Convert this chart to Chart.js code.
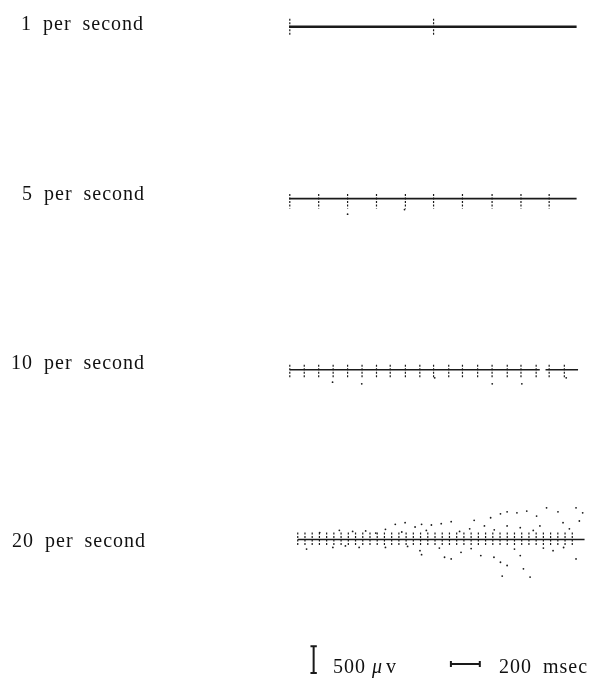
<!DOCTYPE html>
<html>
<head>
<meta charset="utf-8">
<script src="https://cdn.jsdelivr.net/npm/chart.js@4.4.0/dist/chart.umd.min.js"></script>
<style>
  html, body { margin: 0; background: #fff; }
  canvas { display: block; }
</style>
</head>
<body>
<canvas id="emgChart" width="590" height="679"></canvas>
<script>
// stimulation rates, one trace each
const rateLabels = ["1 per second", "5 per second", "10 per second", "20 per second"];

// baseline of each trace (µV, stacked) and its start / end (msec)
const rowOffsets = [0, -3220, -6420, -9600];
const traceStart = [0, 0, 5, 60];
const traceEnd = [1990, 1990, 2000, 2045];
const traceGaps = [[], [], [[1735, 1775]], []];

// stimulus times (msec)
const stim1 = [5, 1000];
const stim5 = [5, 205, 405, 605, 805, 1000, 1200, 1405, 1605, 1800];
const stim10 = [5, 105, 205, 305, 405, 505, 605, 700, 805, 905, 1000, 1105, 1200, 1305, 1405, 1510, 1605, 1710, 1800, 1905];
const stim20 = [60, 110, 160, 210, 260, 310, 360, 410, 460, 510, 560, 610, 660, 710, 760, 810, 860, 910, 960, 1010,
  1060, 1110, 1160, 1210, 1260, 1310, 1360, 1410, 1460, 1510, 1560, 1610, 1660, 1710, 1760, 1810, 1860, 1910, 1960];

// artifact deflections (µV) above / below baseline
const artifactUp = [150, 90, 90, 130];
const artifactDown = [-165, -185, -150, -130];

// scattered response dots (msec, µV from baseline)
const dotTimes5 = [405, 799];
const dotVolts5 = [-290, -203];
const dotTimes10 = [301, 503, 1008, 1406, 1611, 1918];
const dotVolts10 = [-234, -265, -154, -265, -265, -154];
const dotTimes20 = [1463, 1509, 1577, 1645, 1782, 1861, 1986, 2032, 1713, 1395, 1281, 1122, 1053, 985, 917, 872, 803, 735, 667, 530,
  348, 212, 1352, 1600, 1736, 1896, 2009, 1509, 440, 600, 780, 950, 1180, 1250, 1420, 1690, 1940,
  121, 303, 485, 667, 906, 917, 1076, 1122, 1190, 1327, 1418, 1463, 1509, 1600, 1622, 1668, 1475, 1827, 1986,
  390, 820, 1040, 1260, 1560, 1760, 1900];
const dotVolts20 = [481, 518, 500, 531, 592, 518, 592, 500, 438, 407, 358, 333, 296, 271, 283, 234, 314, 283, 191, 160,
  172, 129, 253, 222, 253, 314, 346, 253, 150, 120, 140, 170, 150, 200, 180, 170, 200,
  -179, -148, -148, -148, -210, -284, -333, -364, -240, -302, -333, -426, -487, -302, -549, -703, -685, -210, -364,
  -120, -130, -160, -170, -180, -160, -150];

// calibration bars
const calVolts = 500;
const calTime = 200;
const calBase = -12100;
const calBarTime = 170;
const calTimeStart = 1120;
const calTimeLevel = -11930;

const stimSets = [stim1, stim5, stim10, stim20];
const lineWidths = [2.4, 1.8, 1.5, 1.6];
const ink = "#1a1a1a";

let datasets = [];

rowOffsets.forEach((off, i) => {
  let pts = [{ x: traceStart[i], y: off }];
  traceGaps[i].forEach((g) => {
    pts.push({ x: g[0], y: off });
    pts.push({ x: g[0], y: null });
    pts.push({ x: g[1], y: off });
  });
  pts.push({ x: traceEnd[i], y: off });
  datasets.push({
    data: pts,
    showLine: true,
    borderColor: ink,
    borderWidth: lineWidths[i],
    pointRadius: 0,
  });

  let art = [];
  stimSets[i].forEach((t) => {
    art.push({ x: t, y: off + artifactUp[i] });
    art.push({ x: t, y: off + artifactDown[i] });
    art.push({ x: t, y: null });
  });
  datasets.push({
    data: art,
    showLine: true,
    borderColor: ink,
    borderWidth: 1.2,
    borderDash: [2, 1.5],
    pointRadius: 0,
  });
});

function dotSet(times, volts, off) {
  return {
    data: times.map((t, k) => ({ x: t, y: off + volts[k] })),
    showLine: false,
    pointRadius: 0.9,
    pointBorderWidth: 0,
    pointBackgroundColor: ink,
  };
}
datasets.push(dotSet(dotTimes5, dotVolts5, rowOffsets[1]));
datasets.push(dotSet(dotTimes10, dotVolts10, rowOffsets[2]));
datasets.push(dotSet(dotTimes20, dotVolts20, rowOffsets[3]));

// vertical 500 µV bar with caps
datasets.push({
  data: [
    { x: calBarTime, y: calBase }, { x: calBarTime, y: calBase + calVolts }, { x: calBarTime, y: null },
    { x: calBarTime - 22, y: calBase + calVolts }, { x: calBarTime + 22, y: calBase + calVolts }, { x: calBarTime, y: null },
    { x: calBarTime - 22, y: calBase }, { x: calBarTime + 22, y: calBase },
  ],
  showLine: true,
  borderColor: ink,
  borderWidth: 2,
  pointRadius: 0,
});
// horizontal 200 msec bar with end ticks
datasets.push({
  data: [
    { x: calTimeStart, y: calTimeLevel }, { x: calTimeStart + calTime, y: calTimeLevel }, { x: calTimeStart, y: null },
    { x: calTimeStart, y: calTimeLevel - 55 }, { x: calTimeStart, y: calTimeLevel + 55 }, { x: calTimeStart, y: null },
    { x: calTimeStart + calTime, y: calTimeLevel - 55 }, { x: calTimeStart + calTime, y: calTimeLevel + 55 },
  ],
  showLine: true,
  borderColor: ink,
  borderWidth: 2,
  pointRadius: 0,
});

// label layout (px)
const labelX = [21, 22, 11, 12];
const labelY = [30, 200, 369, 547];

const textPlugin = {
  id: "emgText",
  afterDraw(chart) {
    const ctx = chart.ctx;
    ctx.save();
    ctx.fillStyle = "#111";
    ctx.textBaseline = "alphabetic";
    ctx.textAlign = "left";
    ctx.font = '20px "Liberation Serif"';
    ctx.letterSpacing = "1px";
    ctx.wordSpacing = "5px";
    rateLabels.forEach((txt, i) => {
      ctx.fillText(txt, labelX[i], labelY[i]);
    });
    ctx.fillText(calVolts + "", 333, 673);
    ctx.font = 'italic 20px "Liberation Serif"';
    ctx.fillText("\u03bc", 372, 673);
    ctx.font = '20px "Liberation Serif"';
    ctx.fillText("v", 386, 673);
    ctx.fillText(calTime + " msec", 499, 673);
    ctx.restore();
  },
};

new Chart(document.getElementById("emgChart"), {
  type: "scatter",
  data: { datasets: datasets },
  options: {
    responsive: false,
    animation: false,
    devicePixelRatio: 1,
    layout: { padding: 0 },
    plugins: { legend: { display: false }, tooltip: { enabled: false } },
    scales: {
      x: { type: "linear", min: -1973, max: 2055, display: false },
      y: { type: "linear", min: -12137, max: 425, display: false },
    },
  },
  plugins: [textPlugin],
});
</script>
</body>
</html>
